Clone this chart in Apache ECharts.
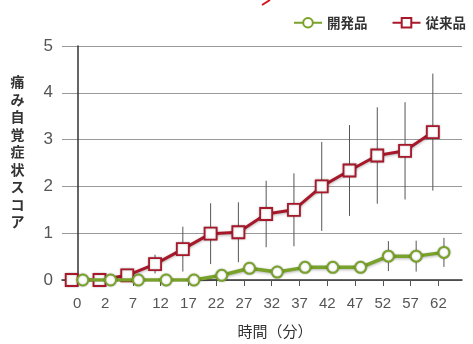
<!DOCTYPE html>
<html><head><meta charset="utf-8">
<script src="https://cdn.jsdelivr.net/npm/echarts@6/dist/echarts.min.js"></script>
<style>html,body{margin:0;padding:0;background:#fff;}#c{width:473px;height:344px;}</style>
</head><body><div id="c"></div>
<script>
// Data
const categories = ['0','2','7','12','17','22','27','32','37','42','47','52','57','62'];
const devValues  = [0, 0, 0, 0, 0, 0.1, 0.25, 0.17, 0.27, 0.27, 0.27, 0.51, 0.51, 0.59];
const devErrors  = [0, 0, 0, 0, 0, 0.08, 0.12, 0.1, 0.12, 0.12, 0.12, 0.32, 0.33, 0.31];
const convValues = [0, 0, 0.1, 0.34, 0.66, 0.99, 1.02, 1.41, 1.5, 2.0, 2.34, 2.66, 2.76, 3.16];
const convErrors = [0, 0, 0.05, 0.2, 0.48, 0.65, 0.64, 0.71, 0.78, 0.95, 0.97, 1.03, 1.04, 1.25];
const yTicks = [0, 1, 2, 3, 4, 5];
const devName = '開発品';
const convName = '従来品';
const yName = '痛み自覚症状スコア';
const xName = '時間（分）';

const OFF = 0.2;
const idx = categories.map((c, i) => i);
const devData = devValues.map((v, i) => [i + OFF, v]);
const convData = convValues.map((v, i) => [i - OFF, v]);
const devErr = devValues.map((v, i) => [i + OFF, v - devErrors[i], v + devErrors[i]]);
const convErr = convValues.map((v, i) => [i - OFF, v - convErrors[i], v + convErrors[i]]);

function errRender(params, api) {
  const x = api.value(0), lo = api.value(1), hi = api.value(2);
  if (hi - lo <= 0) return null;
  const p1 = api.coord([x, lo]);
  const p2 = api.coord([x, hi]);
  return {
    type: 'line',
    shape: { x1: p1[0], y1: p1[1], x2: p2[0], y2: p2[1] },
    style: { stroke: '#555', lineWidth: 1 }
  };
}

const RED = '#a8182b';
const GREEN = '#79a22a';
const chart = echarts.init(document.getElementById('c'), null, { renderer: 'canvas' });
chart.setOption({
  animation: false,
  backgroundColor: '#fff',
  grid: { left: 62, right: 11, top: 46, bottom: 64 },
  legend: {
    right: 2, top: 11,
    itemWidth: 28, itemHeight: 12, itemGap: 24,
    data: [devName, convName],
    textStyle: { fontFamily: '"Noto Sans CJK JP"', fontSize: 13.5, color: '#333', fontWeight: 'bold' }
  },
  xAxis: {
    type: 'value', min: -0.55, max: 13.85,
    splitLine: { show: false },
    axisLine: { show: true, lineStyle: { color: '#333', width: 1.5 } },
    axisTick: { show: true, customValues: idx, length: 6, lineStyle: { color: '#555' } },
    axisLabel: {
      customValues: idx, margin: 16,
      formatter: v => categories[Math.round(v)],
      fontFamily: '"Liberation Sans", Arial, sans-serif', fontSize: 15, color: '#555'
    }
  },
  yAxis: {
    type: 'value', min: yTicks[0], max: yTicks[yTicks.length - 1], interval: 1,
    axisLine: { show: true, onZero: true, lineStyle: { color: '#333', width: 1.5 } },
    axisTick: { show: false },
    splitLine: { show: true, lineStyle: { color: '#999', width: 1 } },
    axisLabel: { margin: 9, fontFamily: '"Liberation Sans", Arial, sans-serif', fontSize: 17, color: '#555' }
  },
  series: [
    { type: 'custom', name: 'convErr', data: convErr, renderItem: errRender, encode: { x: 0, y: [1, 2] }, z: 1, silent: true },
    { type: 'custom', name: 'devErr', data: devErr, renderItem: errRender, encode: { x: 0, y: [1, 2] }, z: 1, silent: true },
    {
      type: 'line', name: convName, data: convData, z: 3,
      symbol: 'rect', symbolSize: 12,
      lineStyle: { color: RED, width: 3, shadowColor: 'rgba(0,0,0,0.3)', shadowBlur: 3, shadowOffsetY: 1 },
      itemStyle: { color: '#fff', borderColor: RED, borderWidth: 1.8, shadowColor: 'rgba(0,0,0,0.3)', shadowBlur: 2 }
    },
    {
      type: 'line', name: devName, data: devData, z: 4,
      symbol: 'circle', symbolSize: 11,
      lineStyle: { color: GREEN, width: 3.5, shadowColor: 'rgba(0,0,0,0.3)', shadowBlur: 3, shadowOffsetY: 1 },
      itemStyle: { color: '#fff', borderColor: GREEN, borderWidth: 2, shadowColor: 'rgba(0,0,0,0.3)', shadowBlur: 2 }
    }
  ],
  graphic: [
    {
      type: 'text', x: 17.5, y: 73,
      style: {
        text: yName.split('').join('\n'), align: 'center', verticalAlign: 'top',
        font: 'bold 14px "Noto Sans CJK JP"', lineHeight: 17.5, fill: '#333'
      }
    },
    {
      type: 'text', x: 275, y: 331,
      style: { text: xName, align: 'center', verticalAlign: 'middle', font: '15px "Noto Sans CJK JP"', fill: '#333' }
    },
    {
      type: 'line', shape: { x1: 262, y1: 5, x2: 270, y2: 0 },
      style: { stroke: '#d4141c', lineWidth: 2 }
    }
  ]
});
</script></body></html>
